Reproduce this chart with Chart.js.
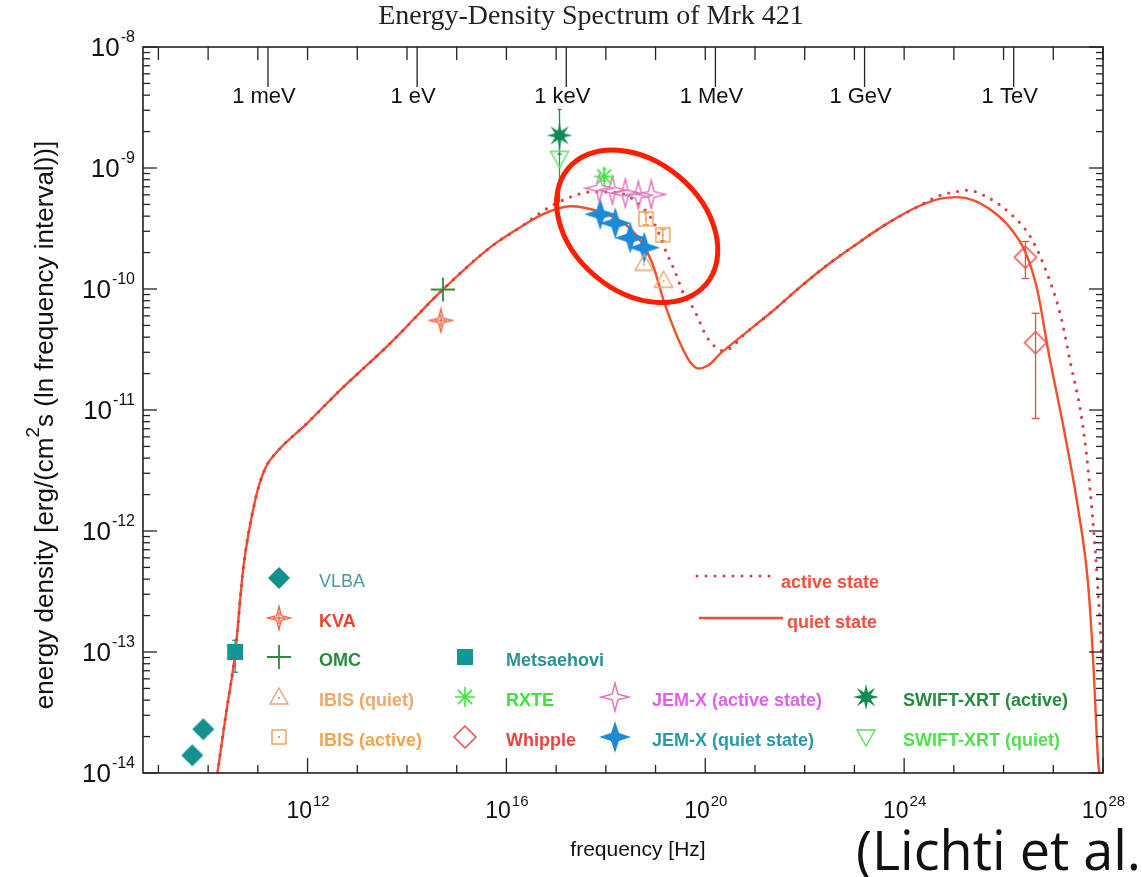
<!DOCTYPE html>
<html lang="en">
<head>
<meta charset="UTF-8" />
<title>Energy-Density Spectrum of Mrk 421</title>
<script src="https://cdn.jsdelivr.net/npm/chart.js"></script>
<style>
  * { margin: 0; padding: 0; box-sizing: border-box; }
  body { background: #fff; width: 1142px; height: 877px; overflow: hidden; }
</style>
</head>
<body>
<canvas id="sed" width="1142" height="877"></canvas>
<script>
// axis ranges (Hz, erg/(cm^2 s))
const xMin = 4.9e8, xMax = 1e28, yMin = 1e-14, yMax = 1e-8;
const xTickExp = [12, 16, 20, 24, 28];
const yTickExp = [-14, -13, -12, -11, -10, -9, -8];
const energyLabels = ['1 meV', '1 eV', '1 keV', '1 MeV', '1 GeV', '1 TeV'];
const energyFreq = [1.6e11, 1.6e14, 1.6e17, 1.6e20, 1.6e23, 1.6e26];

// measurements
const vlbaFreq = [4.8e9, 8.0e9];
const vlbaVal = [1.4e-14, 2.3e-14];
const metsFreq = [3.5e10];
const metsVal = [1.0e-13];
const metsLo = [6.8e-14];
const metsHi = [1.25e-13];
const kvaFreq = [4.8e14];
const kvaVal = [5.5e-11];
const omcFreq = [5.3e14];
const omcVal = [9.9e-11];
const swiftActFreq = [1.17e17];
const swiftActVal = [1.86e-9];
const swiftActLo = [1.3e-9];
const swiftActHi = [3.05e-9];
const swiftQuiFreq = [1.17e17];
const swiftQuiVal = [1.2e-9];
const swiftQuiLo = [5.2e-10];
const swiftQuiHi = [1.6e-9];
const rxteFreq = [9.3e17];
const rxteVal = [8.5e-10];
const rxteLo = [7.8e-10];
const rxteHi = [9.8e-10];
const jemActFreq = [7.4e17, 1.35e18, 2.46e18, 4.5e18, 8.2e18];
const jemActVal = [6.8e-10, 6.55e-10, 6.2e-10, 5.95e-10, 6.05e-10];
const jemQuiFreq = [7.7e17, 1.55e18, 3.1e18, 5.9e18];
const jemQuiVal = [4.15e-10, 3.5e-10, 2.65e-10, 2.2e-10];
const ibisActFreq = [6.4e18, 1.4e19];
const ibisActVal = [3.8e-10, 2.8e-10];
const ibisActLo = [3.4e-10, 2.5e-10];
const ibisActHi = [4.25e-10, 3.1e-10];
const ibisQuiFreq = [5.9e18, 1.45e19];
const ibisQuiVal = [1.63e-10, 1.18e-10];
const whipFreq = [2.75e26, 4.4e26];
const whipVal = [1.83e-10, 3.6e-11];
const whipLo = [1.22e-10, 8.5e-12];
const whipHi = [2.47e-10, 6.3e-11];

// model curves
const quietFreq = [1.54e10, 2.3e10, 3.49e10, 5.13e10, 8.83e10, 1.4e11, 2.41e11, 9.68e11, 4.53e12, 4.59e13,
  5.11e14, 4.72e15, 1.9e16, 6.04e16, 1.92e17, 7.73e17, 2.46e18, 6.21e18, 9.12e18, 1.45e19,
  3.14e19, 4.99e19, 7.33e19, 1.15e20, 2.0e20, 6.9e20, 2.37e21, 8.15e21, 2.81e22, 1.13e23,
  4.53e23, 1.82e24, 5.35e24, 1.16e25, 2.5e25, 6.32e25, 1.37e26, 2.75e26, 4.79e26, 8.09e26,
  1.64e27, 3.1e27, 4.99e27, 6.32e27, 8.0e27, 8.45e27];
const quietVal = [1.0e-14, 3.11e-14, 9.7e-14, 5.04e-13, 1.79e-12, 3.28e-12, 4.5e-12, 7.73e-12, 1.46e-11, 3.56e-11,
  9.77e-11, 2.21e-10, 3.24e-10, 4.23e-10, 4.83e-10, 4.33e-10, 3.43e-10, 2.17e-10, 1.52e-10, 8.07e-11,
  3.54e-11, 2.48e-11, 2.2e-11, 2.34e-11, 2.92e-11, 4.42e-11, 6.67e-11, 1.04e-10, 1.57e-10, 2.37e-10,
  3.47e-10, 4.76e-10, 5.58e-10, 5.75e-10, 5.41e-10, 4.33e-10, 3.18e-10, 2.01e-10, 9.75e-11, 2.94e-11,
  6.86e-12, 1.6e-12, 3.72e-13, 8.71e-14, 1.23e-14, 1.0e-14];
const activeFreq = [1.54e10, 2.3e10, 3.49e10, 5.13e10, 8.83e10, 1.4e11, 2.41e11, 9.68e11, 4.53e12, 4.59e13,
  5.11e14, 4.72e15, 1.9e16, 6.53e16, 1.92e17, 5.25e17, 1.55e18, 4.92e18, 9.86e18, 1.69e19,
  2.49e19, 3.66e19, 5.82e19, 1.08e20, 1.59e20, 2.33e20, 6.9e20, 2.37e21, 8.15e21, 2.81e22,
  1.13e23, 4.53e23, 1.82e24, 5.35e24, 1.07e25, 1.85e25, 4.66e25, 1.37e26, 3.37e26, 6.35e26,
  1.4e27, 2.26e27, 3.63e27, 4.99e27, 7.4e27, 1.0e28];
const activeVal = [1.0e-14, 3.11e-14, 9.7e-14, 5.04e-13, 1.79e-12, 3.28e-12, 4.5e-12, 7.73e-12, 1.46e-11, 3.56e-11,
  9.77e-11, 2.21e-10, 3.24e-10, 4.62e-10, 5.75e-10, 6.34e-10, 6.3e-10, 4.92e-10, 3.36e-10, 1.96e-10,
  1.38e-10, 9.16e-11, 6.89e-11, 4.01e-11, 3.32e-11, 3.08e-11, 4.42e-11, 6.67e-11, 1.04e-10, 1.57e-10,
  2.37e-10, 3.47e-10, 4.76e-10, 5.95e-10, 6.34e-10, 6.55e-10, 5.75e-10, 4.2e-10, 2.75e-10, 1.6e-10,
  6.08e-11, 2.36e-11, 9.16e-12, 3.3e-12, 4.98e-13, 6.3e-14];

const SANS = '"Liberation Sans", Arial, sans-serif';

function pts(f, v) {
  return f.map((q, i) => ({ x: q, y: v[i] }));
}

// custom point symbols
function marker(size, draw) {
  const c = document.createElement('canvas');
  c.width = size;
  c.height = size;
  const g = c.getContext('2d');
  g.translate(size / 2, size / 2);
  draw(g);
  return c;
}

function starPath(g, n, ro, ri) {
  g.beginPath();
  for (let i = 0; i < 2 * n; i++) {
    const a = -Math.PI / 2 + i * Math.PI / n;
    const r = i % 2 ? ri : ro;
    g.lineTo(r * Math.cos(a), r * Math.sin(a));
  }
  g.closePath();
}

function diamondPath(g, r) {
  g.beginPath();
  g.moveTo(0, -r); g.lineTo(r, 0); g.lineTo(0, r); g.lineTo(-r, 0);
  g.closePath();
}

const mk = {
  vlba: marker(26, g => { diamondPath(g, 11); g.fillStyle = '#13918d'; g.fill(); }),
  mets: marker(20, g => { g.fillStyle = '#159595'; g.fillRect(-8, -8, 16, 16); }),
  kva: marker(28, g => {
    g.strokeStyle = '#f06848'; g.lineWidth = 1.4;
    starPath(g, 4, 11.5, 3.2); g.stroke();
    g.beginPath(); g.moveTo(0, -6); g.lineTo(0, 6); g.moveTo(-6, 0); g.lineTo(6, 0); g.stroke();
  }),
  omc: marker(28, g => {
    g.strokeStyle = '#2d8a3c'; g.lineWidth = 1.8;
    g.beginPath(); g.moveTo(0, -12); g.lineTo(0, 12); g.moveTo(-12, 0); g.lineTo(12, 0); g.stroke();
  }),
  ibisQ: marker(24, g => {
    g.strokeStyle = '#eaa474'; g.lineWidth = 1.4;
    g.beginPath(); g.moveTo(0, -9); g.lineTo(9, 7); g.lineTo(-9, 7); g.closePath(); g.stroke();
    g.fillStyle = '#eaa474'; g.fillRect(-1, 0, 2, 2);
  }),
  ibisA: marker(20, g => {
    g.strokeStyle = '#eca050'; g.lineWidth = 1.4;
    g.strokeRect(-7, -7, 14, 14);
    g.fillStyle = '#eca050'; g.fillRect(-1, -1, 2, 2);
  }),
  rxte: marker(24, g => {
    g.strokeStyle = '#3ce63c'; g.lineWidth = 1.6;
    g.beginPath();
    for (let k = 0; k < 4; k++) {
      const a = k * Math.PI / 4;
      g.moveTo(-10 * Math.cos(a), -10 * Math.sin(a));
      g.lineTo(10 * Math.cos(a), 10 * Math.sin(a));
    }
    g.stroke();
  }),
  whip: marker(28, g => { diamondPath(g, 11); g.strokeStyle = '#e84c4c'; g.lineWidth = 1.5; g.stroke(); }),
  jemA: marker(32, g => { starPath(g, 4, 14, 4); g.strokeStyle = '#e070b8'; g.lineWidth = 1.4; g.stroke(); }),
  jemQ: marker(36, g => { starPath(g, 4, 16, 5.5); g.fillStyle = '#1c8ad6'; g.fill(); }),
  swiftA: marker(30, g => { starPath(g, 8, 13, 5); g.fillStyle = '#0f8a52'; g.fill(); }),
  swiftQ: marker(24, g => {
    g.strokeStyle = '#5ae05a'; g.lineWidth = 1.4;
    g.beginPath(); g.moveTo(-9, -7); g.lineTo(9, -7); g.lineTo(0, 9); g.closePath(); g.stroke();
  })
};

function pointSet(label, f, v, symbol, extra) {
  return Object.assign({
    label: label,
    data: pts(f, v),
    pointStyle: symbol,
    pointRadius: 10,
    showLine: false,
    order: 0
  }, extra || {});
}

const datasets = [
  {
    label: 'active state', data: pts(activeFreq, activeVal), showLine: true, pointRadius: 0,
    borderColor: '#d8404a', borderWidth: 3.2, borderDash: [0, 9], borderCapStyle: 'round',
    cubicInterpolationMode: 'monotone', order: 1
  },
  {
    label: 'quiet state', data: pts(quietFreq, quietVal), showLine: true, pointRadius: 0,
    borderColor: '#f0502c', borderWidth: 2.4, cubicInterpolationMode: 'monotone', order: 2
  },
  pointSet('VLBA', vlbaFreq, vlbaVal, mk.vlba),
  pointSet('Metsaehovi', metsFreq, metsVal, mk.mets, { errLo: metsLo, errHi: metsHi, errColor: '#159595', errCap: 3 }),
  pointSet('KVA', kvaFreq, kvaVal, mk.kva),
  pointSet('OMC', omcFreq, omcVal, mk.omc),
  pointSet('SWIFT-XRT (quiet)', swiftQuiFreq, swiftQuiVal, mk.swiftQ, { errLo: swiftQuiLo, errHi: swiftQuiHi, errColor: '#2a9a48', errCap: 0 }),
  pointSet('SWIFT-XRT (active)', swiftActFreq, swiftActVal, mk.swiftA, { errLo: swiftActLo, errHi: swiftActHi, errColor: '#1a8a48', errCap: 2 }),
  pointSet('RXTE', rxteFreq, rxteVal, mk.rxte, { errLo: rxteLo, errHi: rxteHi, errColor: '#3ce63c', errCap: 2 }),
  pointSet('JEM-X (active state)', jemActFreq, jemActVal, mk.jemA),
  pointSet('IBIS (active)', ibisActFreq, ibisActVal, mk.ibisA, { errLo: ibisActLo, errHi: ibisActHi, errColor: '#eca050', errCap: 3 }),
  pointSet('IBIS (quiet)', ibisQuiFreq, ibisQuiVal, mk.ibisQ),
  pointSet('JEM-X (quiet state)', jemQuiFreq, jemQuiVal, mk.jemQ),
  pointSet('Whipple', whipFreq, whipVal, mk.whip, { errLo: whipLo, errHi: whipHi, errColor: '#e84c4c', errCap: 4 })
];

// legend layout: [label, symbol, text colour, bold, column, row]
const legendItems = [
  ['VLBA', mk.vlba, '#4a9aa2', false, 0, 0],
  ['KVA', mk.kva, '#f0402e', true, 0, 1],
  ['OMC', mk.omc, '#2a8a40', true, 0, 2],
  ['IBIS (quiet)', mk.ibisQ, '#f0a868', true, 0, 3],
  ['IBIS (active)', mk.ibisA, '#f0a452', true, 0, 4],
  ['Metsaehovi', mk.mets, '#2a9292', true, 1, 2],
  ['RXTE', mk.rxte, '#40e040', true, 1, 3],
  ['Whipple', mk.whip, '#e84440', true, 1, 4],
  ['JEM-X (active state)', mk.jemA, '#e060e8', true, 2, 3],
  ['JEM-X (quiet state)', mk.jemQ, '#2a9aa8', true, 2, 4],
  ['SWIFT-XRT (active)', mk.swiftA, '#2a8a40', true, 3, 3],
  ['SWIFT-XRT (quiet)', mk.swiftQ, '#50e050', true, 3, 4]
];
const legendColX = [279, 465, 615, 866];
const legendTextX = [319, 506, 652, 903];
const legendRowY = [582, 622, 661, 701, 741];

function pow10(ctx, exp, x, y, align, big, small) {
  const sup = String(exp);
  ctx.font = big + 'px ' + SANS;
  const wb = ctx.measureText('10').width;
  ctx.font = small + 'px ' + SANS;
  const ws = ctx.measureText(sup).width;
  const left = align === 'right' ? x - wb - ws : x - (wb + ws) / 2;
  ctx.textAlign = 'left';
  ctx.textBaseline = 'middle';
  ctx.font = big + 'px ' + SANS;
  ctx.fillText('10', left, y);
  ctx.font = small + 'px ' + SANS;
  ctx.fillText(sup, left + wb + 1, y - big * 0.45);
}

function seg(ctx, x1, y1, x2, y2) {
  ctx.beginPath();
  ctx.moveTo(x1, y1);
  ctx.lineTo(x2, y2);
  ctx.stroke();
}

const frame = {
  id: 'frame',
  beforeDatasetsDraw(chart) {
    const { ctx, scales: { x, y } } = chart;
    ctx.save();
    ctx.lineWidth = 1.3;
    chart.data.datasets.forEach(ds => {
      if (!ds.errLo) return;
      ctx.strokeStyle = ds.errColor;
      ds.data.forEach((p, i) => {
        const px = x.getPixelForValue(p.x);
        const y1 = y.getPixelForValue(ds.errLo[i]);
        const y2 = y.getPixelForValue(ds.errHi[i]);
        seg(ctx, px, y1, px, y2);
        if (ds.errCap) {
          seg(ctx, px - ds.errCap, y1, px + ds.errCap, y1);
          seg(ctx, px - ds.errCap, y2, px + ds.errCap, y2);
        }
      });
    });
    ctx.restore();
  },
  afterDraw(chart) {
    const { ctx, chartArea: a, scales: { x, y } } = chart;
    ctx.save();

    // highlight ellipse round the X-ray points
    const cx = x.getPixelForValue(4.27e18), cy = y.getPixelForValue(3.3e-10);
    ctx.strokeStyle = '#ff1e00';
    ctx.lineWidth = 5;
    ctx.beginPath();
    ctx.ellipse(cx, cy, 90, 65, 40 * Math.PI / 180, 0, 2 * Math.PI);
    ctx.stroke();

    // frame and ticks
    ctx.strokeStyle = '#222';
    ctx.lineWidth = 1.6;
    ctx.strokeRect(a.left, a.top, a.right - a.left, a.bottom - a.top);
    ctx.lineWidth = 1.3;
    for (let e = 9; e <= 28; e++) {
      const px = x.getPixelForValue(Math.pow(10, e));
      const long = xTickExp.includes(e);
      seg(ctx, px, a.bottom, px, a.bottom - (long ? 15 : 8));
      seg(ctx, px, a.top, px, a.top + 13);
    }
    energyFreq.forEach(f => {
      const px = x.getPixelForValue(f);
      seg(ctx, px, a.top, px, a.top + 40);
    });
    for (let e = -14; e <= -8; e++) {
      for (let m = 1; m <= 9; m++) {
        const v = m * Math.pow(10, e);
        if (v > yMax * 1.0001) break;
        const py = y.getPixelForValue(v);
        const len = m === 1 ? 14 : 7;
        seg(ctx, a.left, py, a.left + len, py);
        seg(ctx, a.right, py, a.right - len, py);
      }
    }

    // tick labels
    ctx.fillStyle = '#111';
    xTickExp.forEach(e => pow10(ctx, e, x.getPixelForValue(Math.pow(10, e)), a.bottom + 39, 'center', 23, 15));
    yTickExp.forEach(e => pow10(ctx, e, a.left - 9, y.getPixelForValue(Math.pow(10, e)) + 2, 'right', 26, 16));
    ctx.font = '22px ' + SANS;
    ctx.textAlign = 'center';
    ctx.textBaseline = 'middle';
    energyLabels.forEach((t, i) => ctx.fillText(t, x.getPixelForValue(energyFreq[i]) - 4, 97));

    // titles
    ctx.font = '28px "Liberation Serif", "Times New Roman", serif';
    ctx.fillStyle = '#222';
    ctx.fillText('Energy-Density Spectrum of Mrk 421', 591, 17);
    ctx.font = '21px ' + SANS;
    ctx.fillStyle = '#111';
    ctx.fillText('frequency [Hz]', (a.left + a.right) / 2 + 15, 850);

    ctx.save();
    ctx.translate(46, 425);
    ctx.rotate(-Math.PI / 2);
    const p1 = 'energy density [erg/(cm', p2 = 's (ln frequency interval))]';
    ctx.font = '26px ' + SANS;
    const w1 = ctx.measureText(p1).width, w2 = ctx.measureText(p2).width;
    ctx.font = '19px ' + SANS;
    const ws = ctx.measureText('2').width;
    const left = -(w1 + ws + w2) / 2;
    ctx.textAlign = 'left';
    ctx.font = '26px ' + SANS;
    ctx.fillText(p1, left, 0);
    ctx.font = '19px ' + SANS;
    ctx.fillText('2', left + w1, -12);
    ctx.font = '26px ' + SANS;
    ctx.fillText(p2, left + w1 + ws, 0);
    ctx.restore();

    // legend
    legendItems.forEach(([label, sym, color, bold, col, row]) => {
      const ty = legendRowY[row];
      ctx.drawImage(sym, legendColX[col] - sym.width / 2, ty - 4 - sym.height / 2);
      ctx.font = (bold ? 'bold ' : '') + '18px ' + SANS;
      ctx.fillStyle = color;
      ctx.textAlign = 'left';
      ctx.fillText(label, legendTextX[col], ty);
    });
    ctx.lineCap = 'round';
    ctx.strokeStyle = '#d8404a';
    ctx.lineWidth = 3;
    ctx.setLineDash([0, 9]);
    seg(ctx, 697, 576, 777, 576);
    ctx.setLineDash([]);
    ctx.lineCap = 'butt';
    ctx.strokeStyle = '#f0502c';
    ctx.lineWidth = 2.6;
    seg(ctx, 699, 618, 783, 618);
    ctx.font = 'bold 18px ' + SANS;
    ctx.fillStyle = '#f0503c';
    ctx.fillText('active state', 781, 583);
    ctx.fillText('quiet state', 787, 623);

    // source note
    ctx.font = '54px "Open Sans", "Noto Sans", sans-serif';
    ctx.fillStyle = '#111';
    ctx.textBaseline = 'alphabetic';
    ctx.fillText('(Lichti et al. 2008)', 856, 870);
    ctx.restore();
  }
};

const chart = new Chart(document.getElementById('sed'), {
  type: 'scatter',
  data: { datasets: datasets },
  options: {
    responsive: false,
    animation: false,
    layout: { padding: { left: 143, right: 39, top: 47, bottom: 104 } },
    scales: {
      x: { type: 'logarithmic', min: xMin, max: xMax, display: false },
      y: { type: 'logarithmic', min: yMin, max: yMax, display: false }
    },
    plugins: {
      legend: { display: false },
      tooltip: { enabled: false }
    }
  },
  plugins: [frame]
});
</script>
</body>
</html>
